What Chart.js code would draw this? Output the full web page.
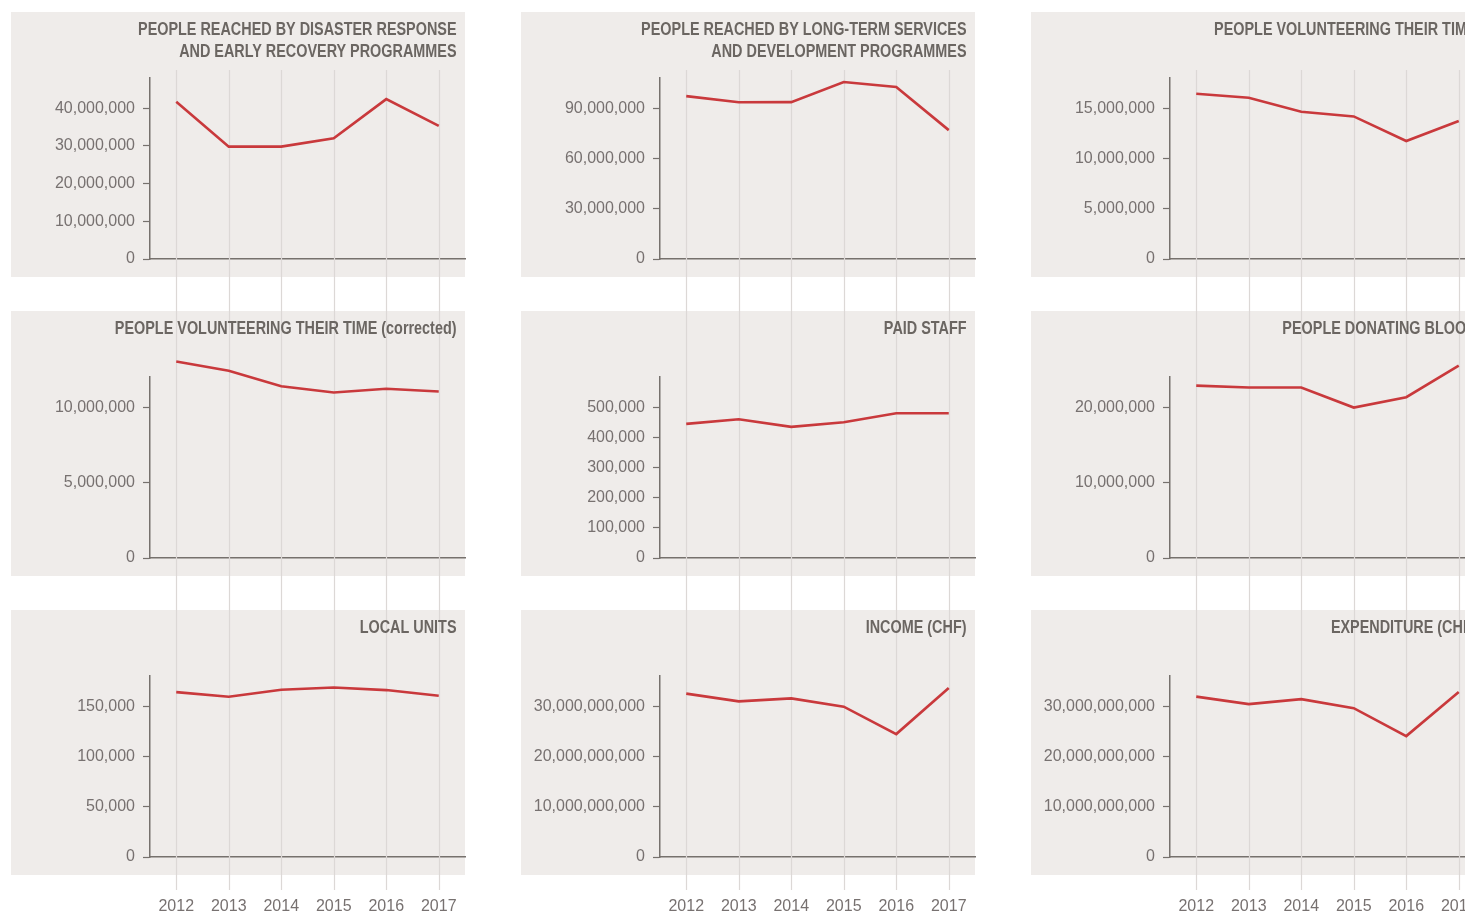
<!DOCTYPE html>
<html><head><meta charset="utf-8">
<script src="https://cdn.jsdelivr.net/npm/chart.js@4/dist/chart.umd.min.js"></script>
<style>
html,body{margin:0;padding:0;background:#fff;overflow:hidden;width:1465px;height:913px}
#wrap{position:relative;width:1465px;height:913px;overflow:hidden}
#wrap canvas{position:absolute}
</style></head><body><div id="wrap"></div>
<script>
// ---------- data ----------
const years = ['2012','2013','2014','2015','2016','2017'];

const disasterResponse   = [41.7e6, 29.8e6, 29.8e6, 32.0e6, 42.4e6, 35.3e6];
const longTermServices   = [97.2e6, 93.5e6, 93.6e6, 105.6e6, 102.6e6, 76.9e6];
const volunteers         = [16.43e6, 16.03e6, 14.64e6, 14.18e6, 11.73e6, 13.72e6];
const volunteersCorr     = [13.03e6, 12.41e6, 11.39e6, 10.97e6, 11.22e6, 11.04e6];
const paidStaff          = [444700, 460000, 434800, 450000, 480000, 480000];
const bloodDonors        = [22.86e6, 22.6e6, 22.6e6, 19.95e6, 21.32e6, 25.5e6];
const localUnits         = [164000, 159300, 166300, 168600, 166000, 160300];
const incomeCHF          = [32.5e9, 30.95e9, 31.55e9, 29.9e9, 24.45e9, 33.6e9];
const expenditureCHF     = [31.9e9, 30.4e9, 31.4e9, 29.6e9, 24.05e9, 32.8e9];

const ticksDisaster   = [0, 10e6, 20e6, 30e6, 40e6];
const ticksLongTerm   = [0, 30e6, 60e6, 90e6];
const ticksVolunteers = [0, 5e6, 10e6, 15e6];
const ticksVolCorr    = [0, 5e6, 10e6];
const ticksStaff      = [0, 100000, 200000, 300000, 400000, 500000];
const ticksBlood      = [0, 10e6, 20e6];
const ticksUnits      = [0, 50000, 100000, 150000];
const ticksMoney      = [0, 10e9, 20e9, 30e9];

const axisMax = [48e6, 108e6, 18e6, 12e6, 600000, 24e6, 180000, 36e9, 36e9];

const titles = [
  ['PEOPLE REACHED BY DISASTER RESPONSE', 'AND EARLY RECOVERY PROGRAMMES'],
  ['PEOPLE REACHED BY LONG-TERM SERVICES', 'AND DEVELOPMENT PROGRAMMES'],
  ['PEOPLE VOLUNTEERING THEIR TIME'],
  ['PEOPLE VOLUNTEERING THEIR TIME (corrected)'],
  ['PAID STAFF'],
  ['PEOPLE DONATING BLOOD'],
  ['LOCAL UNITS'],
  ['INCOME (CHF)'],
  ['EXPENDITURE (CHF)']
];
const seriesList = [disasterResponse, longTermServices, volunteers, volunteersCorr, paidStaff, bloodDonors, localUnits, incomeCHF, expenditureCHF];
const tickList = [ticksDisaster, ticksLongTerm, ticksVolunteers, ticksVolCorr, ticksStaff, ticksBlood, ticksUnits, ticksMoney, ticksMoney];

// ---------- styles ----------
const PANEL_BG = '#efecea';
const GRID = '#dcd8d6';
const AXIS = '#76716d';
const TEXT = '#777170';
const TITLE = '#6b6662';
const RED = '#c9393c';

const colLeft = [0, 510, 1020];
const rowTop = [-5, 294, 593];
const rowH = [299, 299, 320];
const CW = 510;
const AREA = {left:150, right:465, top:83, bottom:264};
const PANEL = {x:11, y:17, w:454, h:265};

const panelPlugin = {
  id: 'panelDeco',
  beforeDraw(chart) {
    const ctx = chart.ctx;
    ctx.save();
    ctx.fillStyle = PANEL_BG;
    ctx.fillRect(PANEL.x, PANEL.y, PANEL.w, PANEL.h);
    ctx.restore();
  },
  beforeDatasetsDraw(chart, args, opts) {
    const ctx = chart.ctx;
    const xs = chart.scales.x;
    ctx.save();
    ctx.strokeStyle = GRID;
    ctx.lineWidth = 1.2;
    for (let i = 0; i < years.length; i++) {
      const x = Math.round(xs.getPixelForValue(i)) + 0.5;
      ctx.beginPath();
      ctx.moveTo(x, opts.gy0);
      ctx.lineTo(x, opts.gy1);
      ctx.stroke();
    }
    ctx.restore();
  },
  afterDraw(chart, args, opts) {
    const ctx = chart.ctx;
    ctx.save();
    ctx.fillStyle = TITLE;
    ctx.font = 'bold 18px "Liberation Sans", Arial, sans-serif';
    ctx.textAlign = 'right';
    ctx.textBaseline = 'alphabetic';
    opts.lines.forEach((ln, i) => {
      ctx.save();
      ctx.translate(456.5, 40 + i * 21.5);
      ctx.scale(0.80, 1);
      ctx.fillText(ln, 0, 0);
      ctx.restore();
    });
    ctx.restore();
  }
};

const wrap = document.getElementById('wrap');
for (let k = 0; k < 9; k++) {
  const r = Math.floor(k / 3), c = k % 3;
  const cv = document.createElement('canvas');
  cv.width = CW; cv.height = rowH[r];
  cv.style.left = colLeft[c] + 'px';
  cv.style.top = rowTop[r] + 'px';
  cv.style.width = CW + 'px';
  cv.style.height = rowH[r] + 'px';
  wrap.appendChild(cv);
  const H = rowH[r];
  const tv = tickList[k];
  const gy0 = r === 0 ? 75 : 0;
  const gy1 = r === 2 ? 297 : H;
  new Chart(cv, {
    type: 'line',
    data: {
      labels: years,
      datasets: [{
        data: seriesList[k],
        borderColor: RED,
        borderWidth: 2.6,
        pointRadius: 0,
        tension: 0,
        fill: false,
        clip: false
      }]
    },
    options: {
      responsive: false,
      animation: false,
      devicePixelRatio: 1,
      layout: {padding: {left: 0, top: AREA.top, right: CW - AREA.right, bottom: 0}},
      plugins: {
        legend: {display: false},
        tooltip: {enabled: false},
        panelDeco: {lines: titles[k], gy0: gy0, gy1: gy1}
      },
      scales: {
        x: {
          type: 'category',
          offset: true,
          afterFit(s) { s.height = H - AREA.bottom; },
          grid: {display: true, drawOnChartArea: false, drawTicks: false},
          border: {display: true, color: AXIS, width: 1.5},
          ticks: {
            display: r === 2,
            color: TEXT,
            font: {family: '"Liberation Sans", Arial, sans-serif', size: 16},
            padding: 40,
            maxRotation: 0,
            autoSkip: false
          }
        },
        y: {
          type: 'linear',
          min: 0,
          max: axisMax[k],
          afterFit(s) { s.width = AREA.left; },
          afterBuildTicks(s) { s.ticks = tv.map(v => ({value: v})); },
          grid: {display: true, drawOnChartArea: false, drawTicks: true, tickLength: 7, tickColor: AXIS, tickWidth: 1.2},
          border: {display: true, color: AXIS, width: 1.5},
          ticks: {
            color: TEXT,
            font: {family: '"Liberation Sans", Arial, sans-serif', size: 16},
            padding: 8,
            callback: v => Number(v).toLocaleString('en-US')
          }
        }
      }
    },
    plugins: [panelPlugin]
  });
}
</script>
</body></html>
